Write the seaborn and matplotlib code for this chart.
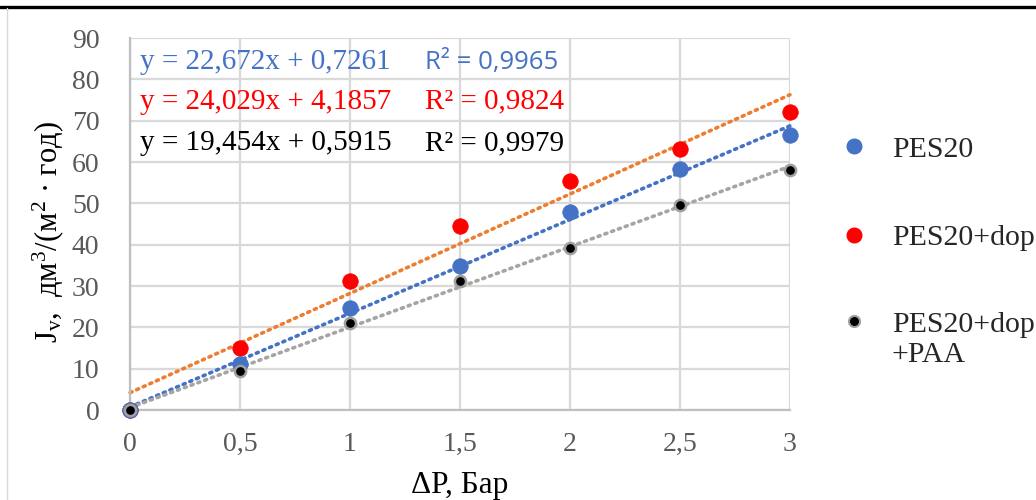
import numpy as np
import pandas as pd
import matplotlib
matplotlib.use("Agg")
import matplotlib.pyplot as plt
import seaborn as sns
from matplotlib.lines import Line2D
from matplotlib.legend_handler import HandlerLine2D

# ---- data ----
pressure = [0, 0.5, 1, 1.5, 2, 2.5, 3]
pes20 = [0, 11.1, 24.7, 34.8, 47.8, 58.2, 66.5]
pes20_dop = [0, 15.0, 31.2, 44.5, 55.3, 63.1, 72.1]
pes20_dop_paa = [0, 9.4, 21.0, 31.1, 39.3, 49.7, 58.0]
series_names = ["PES20", "PES20+dop", "PES20+dop\n+PAA"]
slopes = [22.672, 24.029, 19.454]
intercepts = [0.7261, 4.1857, 0.5915]
eq_texts = ["y = 22,672x + 0,7261", "y = 24,029x + 4,1857", "y = 19,454x + 0,5915"]
r2_texts = ["R² = 0,9965", "R² = 0,9824", "R² = 0,9979"]
x_ticks = [0, 0.5, 1, 1.5, 2, 2.5, 3]
x_tick_labels = ["0", "0,5", "1", "1,5", "2", "2,5", "3"]
y_ticks = [0, 10, 20, 30, 40, 50, 60, 70, 80, 90]

marker_colors = ["#4472C4", "#FF0000", "#000000"]
line_colors = ["#4472C4", "#ED7D31", "#A5A5A5"]
text_colors = ["#4472C4", "#FF0000", "#000000"]

sns.set_theme(style="white")
plt.rcParams["font.family"] = ["Liberation Serif", "DejaVu Serif"]
plt.rcParams["mathtext.fontset"] = "custom"
plt.rcParams["mathtext.rm"] = "Liberation Serif"
plt.rcParams["mathtext.it"] = "Liberation Serif:italic"

df = pd.DataFrame({
    "x": pressure * 3,
    "y": pes20 + pes20_dop + pes20_dop_paa,
    "series": sum([[n] * len(pressure) for n in series_names], []),
})

fig = plt.figure(figsize=(10.36, 5.0), dpi=100)
ax = fig.add_axes([0.1255, 0.18, 0.6370, 0.744])

# trend lines
xs = np.array([0, 3])
for s, b, c in zip(slopes, intercepts, line_colors):
    ax.plot(xs, s * xs + b, color=c, lw=2.6, linestyle=(0, (0.6, 1.4)),
            dash_capstyle="round", zorder=2, clip_on=False)

# points (red underneath so it peeks at 0)
order = [1, 0, 2]
for i in order:
    sub = df[df["series"] == series_names[i]]
    if i == 2:
        sns.scatterplot(data=sub, x="x", y="y", ax=ax, color="#000000", s=65,
                        edgecolor="#a0a0a0", linewidth=1.8, legend=False,
                        zorder=4, clip_on=False)
    else:
        sns.scatterplot(data=sub, x="x", y="y", ax=ax, color=marker_colors[i],
                        s=125, edgecolor=marker_colors[i], linewidth=0.5,
                        legend=False, zorder=3, clip_on=False)

ax.set_xlim(0, 3)
ax.set_ylim(0, 90)
ax.set_xticks(x_ticks)
ax.set_xticklabels(x_tick_labels)
ax.set_yticks(y_ticks)
ax.tick_params(axis="both", labelsize=20, colors="#595959", length=0)
ax.tick_params(axis="x", pad=16)
ax.tick_params(axis="y", pad=22)
ax.grid(True, color="#D9D9D9", lw=1.6)
ax.set_axisbelow(True)
for sp in ["top", "right"]:
    ax.spines[sp].set_visible(False)
for sp in ["left", "bottom"]:
    ax.spines[sp].set_color("#BFBFBF")
    ax.spines[sp].set_linewidth(1.6)

ax.set_xlabel("ΔP, Бар", fontsize=22.5, color="#000000", labelpad=10)
ax.set_ylabel("J$_\\mathregular{v}$,  дм$^\\mathregular{3}$/(м$^\\mathregular{2}$ · год)",
              fontsize=22, color="#000000")
ax.yaxis.set_label_coords(-0.097, 0.478)

# equations
eq_y = [84.1, 74.6, 64.5]
for k in range(3):
    ax.text(0.045, eq_y[k], eq_texts[k], fontsize=21, color=text_colors[k],
            va="center", ha="left", zorder=5)
    fam = ["Open Sans", "DejaVu Sans"] if k == 0 else ["Liberation Serif", "DejaVu Serif"]
    fs = 18.5 if k == 0 else 21
    ax.text(1.34, eq_y[k], r2_texts[k], fontsize=fs, color=text_colors[k],
            va="center", ha="left", family=fam, zorder=5)


class TopLineHandler(HandlerLine2D):
    """Place the marker at the first line of a two-line label."""
    def create_artists(self, legend, orig_handle, xdescent, ydescent, width,
                       height, fontsize, trans):
        arts = super().create_artists(legend, orig_handle, xdescent, ydescent,
                                      width, height, fontsize, trans)
        for a in arts:
            a.set_ydata(np.asarray(a.get_ydata(), dtype=float) + 0.62 * fontsize)
        return arts


# legend
handles = [
    Line2D([], [], marker="o", ls="", color=marker_colors[0], markersize=10.5),
    Line2D([], [], marker="o", ls="", color=marker_colors[1], markersize=10.5),
    Line2D([], [], marker="o", ls="", color="#000000", markersize=8,
           markeredgecolor="#a0a0a0", markeredgewidth=1.5),
]
leg = fig.legend(handles, series_names, loc="upper left",
                 bbox_to_anchor=(0.7987, 0.752), frameon=False, fontsize=21.5,
                 labelspacing=2.05, handletextpad=0.75, handlelength=1.0,
                 borderaxespad=0, handler_map={handles[2]: TopLineHandler()})

# framing lines from the page
fig.add_artist(Line2D([0, 1], [0.986, 0.986], color="#000000", lw=2.4,
                      transform=fig.transFigure))
fig.add_artist(Line2D([0.007, 0.007], [0, 0.984], color="#D9D9D9", lw=1.0,
                      transform=fig.transFigure))

fig.savefig("out.png", dpi=100)
